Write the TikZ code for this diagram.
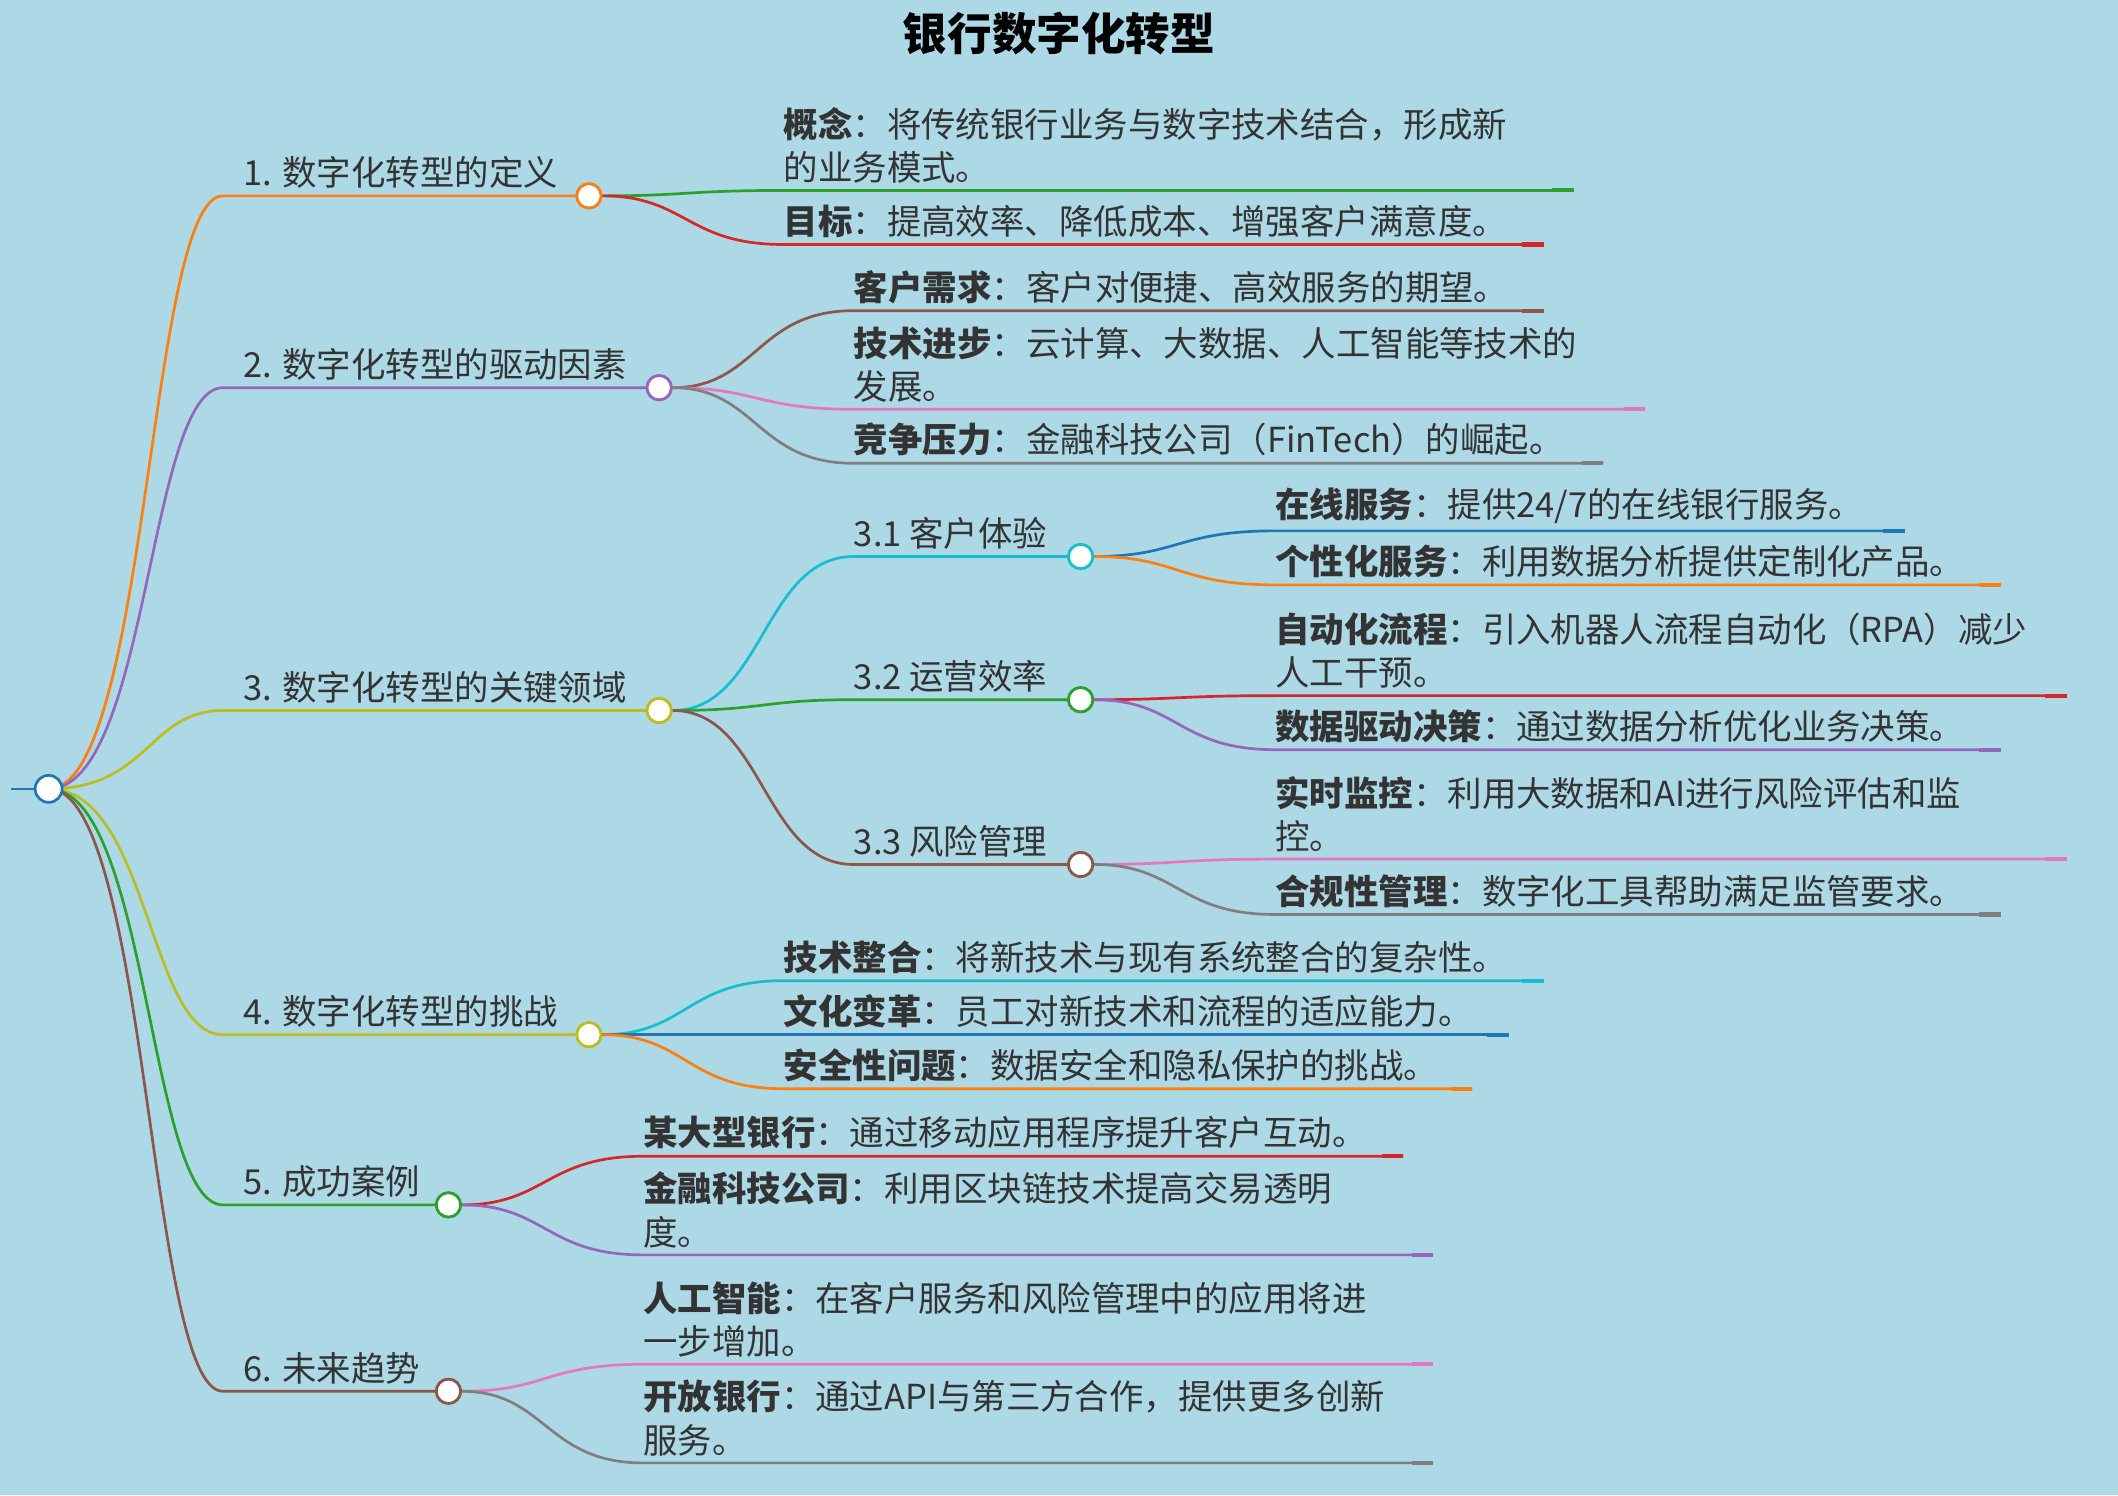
\documentclass[tikz,border=0pt]{standalone}
\usepackage{fontspec}
\setmainfont{Noto Sans CJK SC}
\definecolor{cblue}{HTML}{1F77B4}\definecolor{corange}{HTML}{FF7F0E}
\definecolor{cgreen}{HTML}{2CA02C}\definecolor{cred}{HTML}{D62728}
\definecolor{cpurple}{HTML}{9467BD}\definecolor{cbrown}{HTML}{8C564B}
\definecolor{cpink}{HTML}{E377C2}\definecolor{cgray}{HTML}{7F7F7F}
\definecolor{colive}{HTML}{BCBD22}\definecolor{ccyan}{HTML}{17BECF}
\definecolor{bg}{HTML}{ADD8E6}\definecolor{txt}{HTML}{333333}
\tikzset{
 hub/.style={circle,draw=#1,fill=white,line width=2pt,minimum size=18pt,inner sep=0pt},
 lbl/.style={anchor=south west,inner sep=0pt,align=left,text=txt,font=\fontsize{25.5}{32}\selectfont},
 edge/.style={draw=#1,line width=2pt},
}
\begin{document}
\begin{tikzpicture}[x=1pt,y=-1pt]
\fill[bg] (0,0) rectangle (1568,1107);
\useasboundingbox (0,0) rectangle (1568,1107);
\node[font=\fontsize{33}{35}\selectfont\bfseries,text=black] (title) at (784,25) {银行数字化转型};
\draw[cblue,line width=2pt] (8,584) -- (30,584);
% level 1
\foreach \n/\y/\cx/\c/\t in {
 a/145/436/corange/{1. 数字化转型的定义},
 b/287/488/cpurple/{2. 数字化转型的驱动因素},
 c/526/488/colive/{3. 数字化转型的关键领域},
 d/766/436/colive/{4. 数字化转型的挑战},
 e/892/332/cgreen/{5. 成功案例},
 f/1030/332/cbrown/{6. 未来趋势}}{
 \draw[edge=\c] (36,584) .. controls (110,584) and (110,\y) .. (165,\y) -- (\cx,\y);
 \node[lbl] at (180,\y-5) {\t};
 \node[hub=\c] (\n) at (\cx,\y) {};
}
\node[hub=cblue,minimum size=20pt] (root) at (36,584) {};
% level 2 of branch 3
\foreach \n/\y/\c/\t in {c1/412/ccyan/{3.1 客户体验}, c2/518/cgreen/{3.2 运营效率}, c3/640/cbrown/{3.3 风险管理}}{
 \draw[edge=\c] (c.east) .. controls (565,526) and (565,\y) .. (632,\y) -- (800,\y);
 \node[lbl] at (632,\y-5) {\t};
 \node[hub=\c] (\n) at (800,\y) {};
}
% leaves
\def\lf#1#2#3#4#5#6#7{%
 \draw[edge=#6] (#1) .. controls (#2/2+#3/2,#7) and (#2/2+#3/2,#4) .. (#3,#4) -- (#5,#4);
 \draw[draw=#6,line width=3pt] (#5-16,#4) -- (#5,#4);}
\def\tx#1#2#3{\node[lbl] at (#1,#2-5) {#3};}
% branch 1
\lf{a.east}{436}{580}{141}{1165}{cgreen}{145}\tx{580}{141}{\textbf{概念}：将传统银行业务与数字技术结合，形成新\\的业务模式。}
\lf{a.east}{436}{580}{181}{1143}{cred}{145}\tx{580}{181}{\textbf{目标}：提高效率、降低成本、增强客户满意度。}
% branch 2
\lf{b.east}{488}{632}{230}{1143}{cbrown}{287}\tx{632}{230}{\textbf{客户需求}：客户对便捷、高效服务的期望。}
\lf{b.east}{488}{632}{303}{1218}{cpink}{287}\tx{632}{303}{\textbf{技术进步}：云计算、大数据、人工智能等技术的\\发展。}
\lf{b.east}{488}{632}{343}{1187}{cgray}{287}\tx{632}{343}{\textbf{竞争压力}：金融科技公司（FinTech）的崛起。}
% 3.1
\lf{c1.east}{800}{944}{393}{1410}{cblue}{412}\tx{944}{393}{\textbf{在线服务}：提供24/7的在线银行服务。}
\lf{c1.east}{800}{944}{433}{1481}{corange}{412}\tx{944}{433}{\textbf{个性化服务}：利用数据分析提供定制化产品。}
% 3.2
\lf{c2.east}{800}{944}{515}{1530}{cred}{518}\tx{944}{515}{\textbf{自动化流程}：引入机器人流程自动化（RPA）减少\\人工干预。}
\lf{c2.east}{800}{944}{555}{1481}{cpurple}{518}\tx{944}{555}{\textbf{数据驱动决策}：通过数据分析优化业务决策。}
% 3.3
\lf{c3.east}{800}{944}{636}{1530}{cpink}{640}\tx{944}{636}{\textbf{实时监控}：利用大数据和AI进行风险评估和监\\控。}
\lf{c3.east}{800}{944}{677}{1481}{cgray}{640}\tx{944}{677}{\textbf{合规性管理}：数字化工具帮助满足监管要求。}
% branch 4
\lf{d.east}{436}{580}{726}{1143}{ccyan}{766}\tx{580}{726}{\textbf{技术整合}：将新技术与现有系统整合的复杂性。}
\lf{d.east}{436}{580}{766}{1117}{cblue}{766}\tx{580}{766}{\textbf{文化变革}：员工对新技术和流程的适应能力。}
\lf{d.east}{436}{580}{806}{1090}{corange}{766}\tx{580}{806}{\textbf{安全性问题}：数据安全和隐私保护的挑战。}
% branch 5
\lf{e.east}{332}{476}{856}{1039}{cred}{892}\tx{476}{856}{\textbf{某大型银行}：通过移动应用程序提升客户互动。}
\lf{e.east}{332}{476}{929}{1061}{cpurple}{892}\tx{476}{929}{\textbf{金融科技公司}：利用区块链技术提高交易透明\\度。}
% branch 6
\lf{f.east}{332}{476}{1010}{1061}{cpink}{1030}\tx{476}{1010}{\textbf{人工智能}：在客户服务和风险管理中的应用将进\\一步增加。}
\lf{f.east}{332}{476}{1083}{1061}{cgray}{1030}\tx{476}{1083}{\textbf{开放银行}：通过API与第三方合作，提供更多创新\\服务。}
% redraw hubs on top
\foreach \n/\c/\x/\y in {a/corange/436/145,b/cpurple/488/287,c/colive/488/526,d/colive/436/766,e/cgreen/332/892,f/cbrown/332/1030,c1/ccyan/800/412,c2/cgreen/800/518,c3/cbrown/800/640}
 \node[hub=\c] at (\x,\y) {};
\end{tikzpicture}
\end{document}
